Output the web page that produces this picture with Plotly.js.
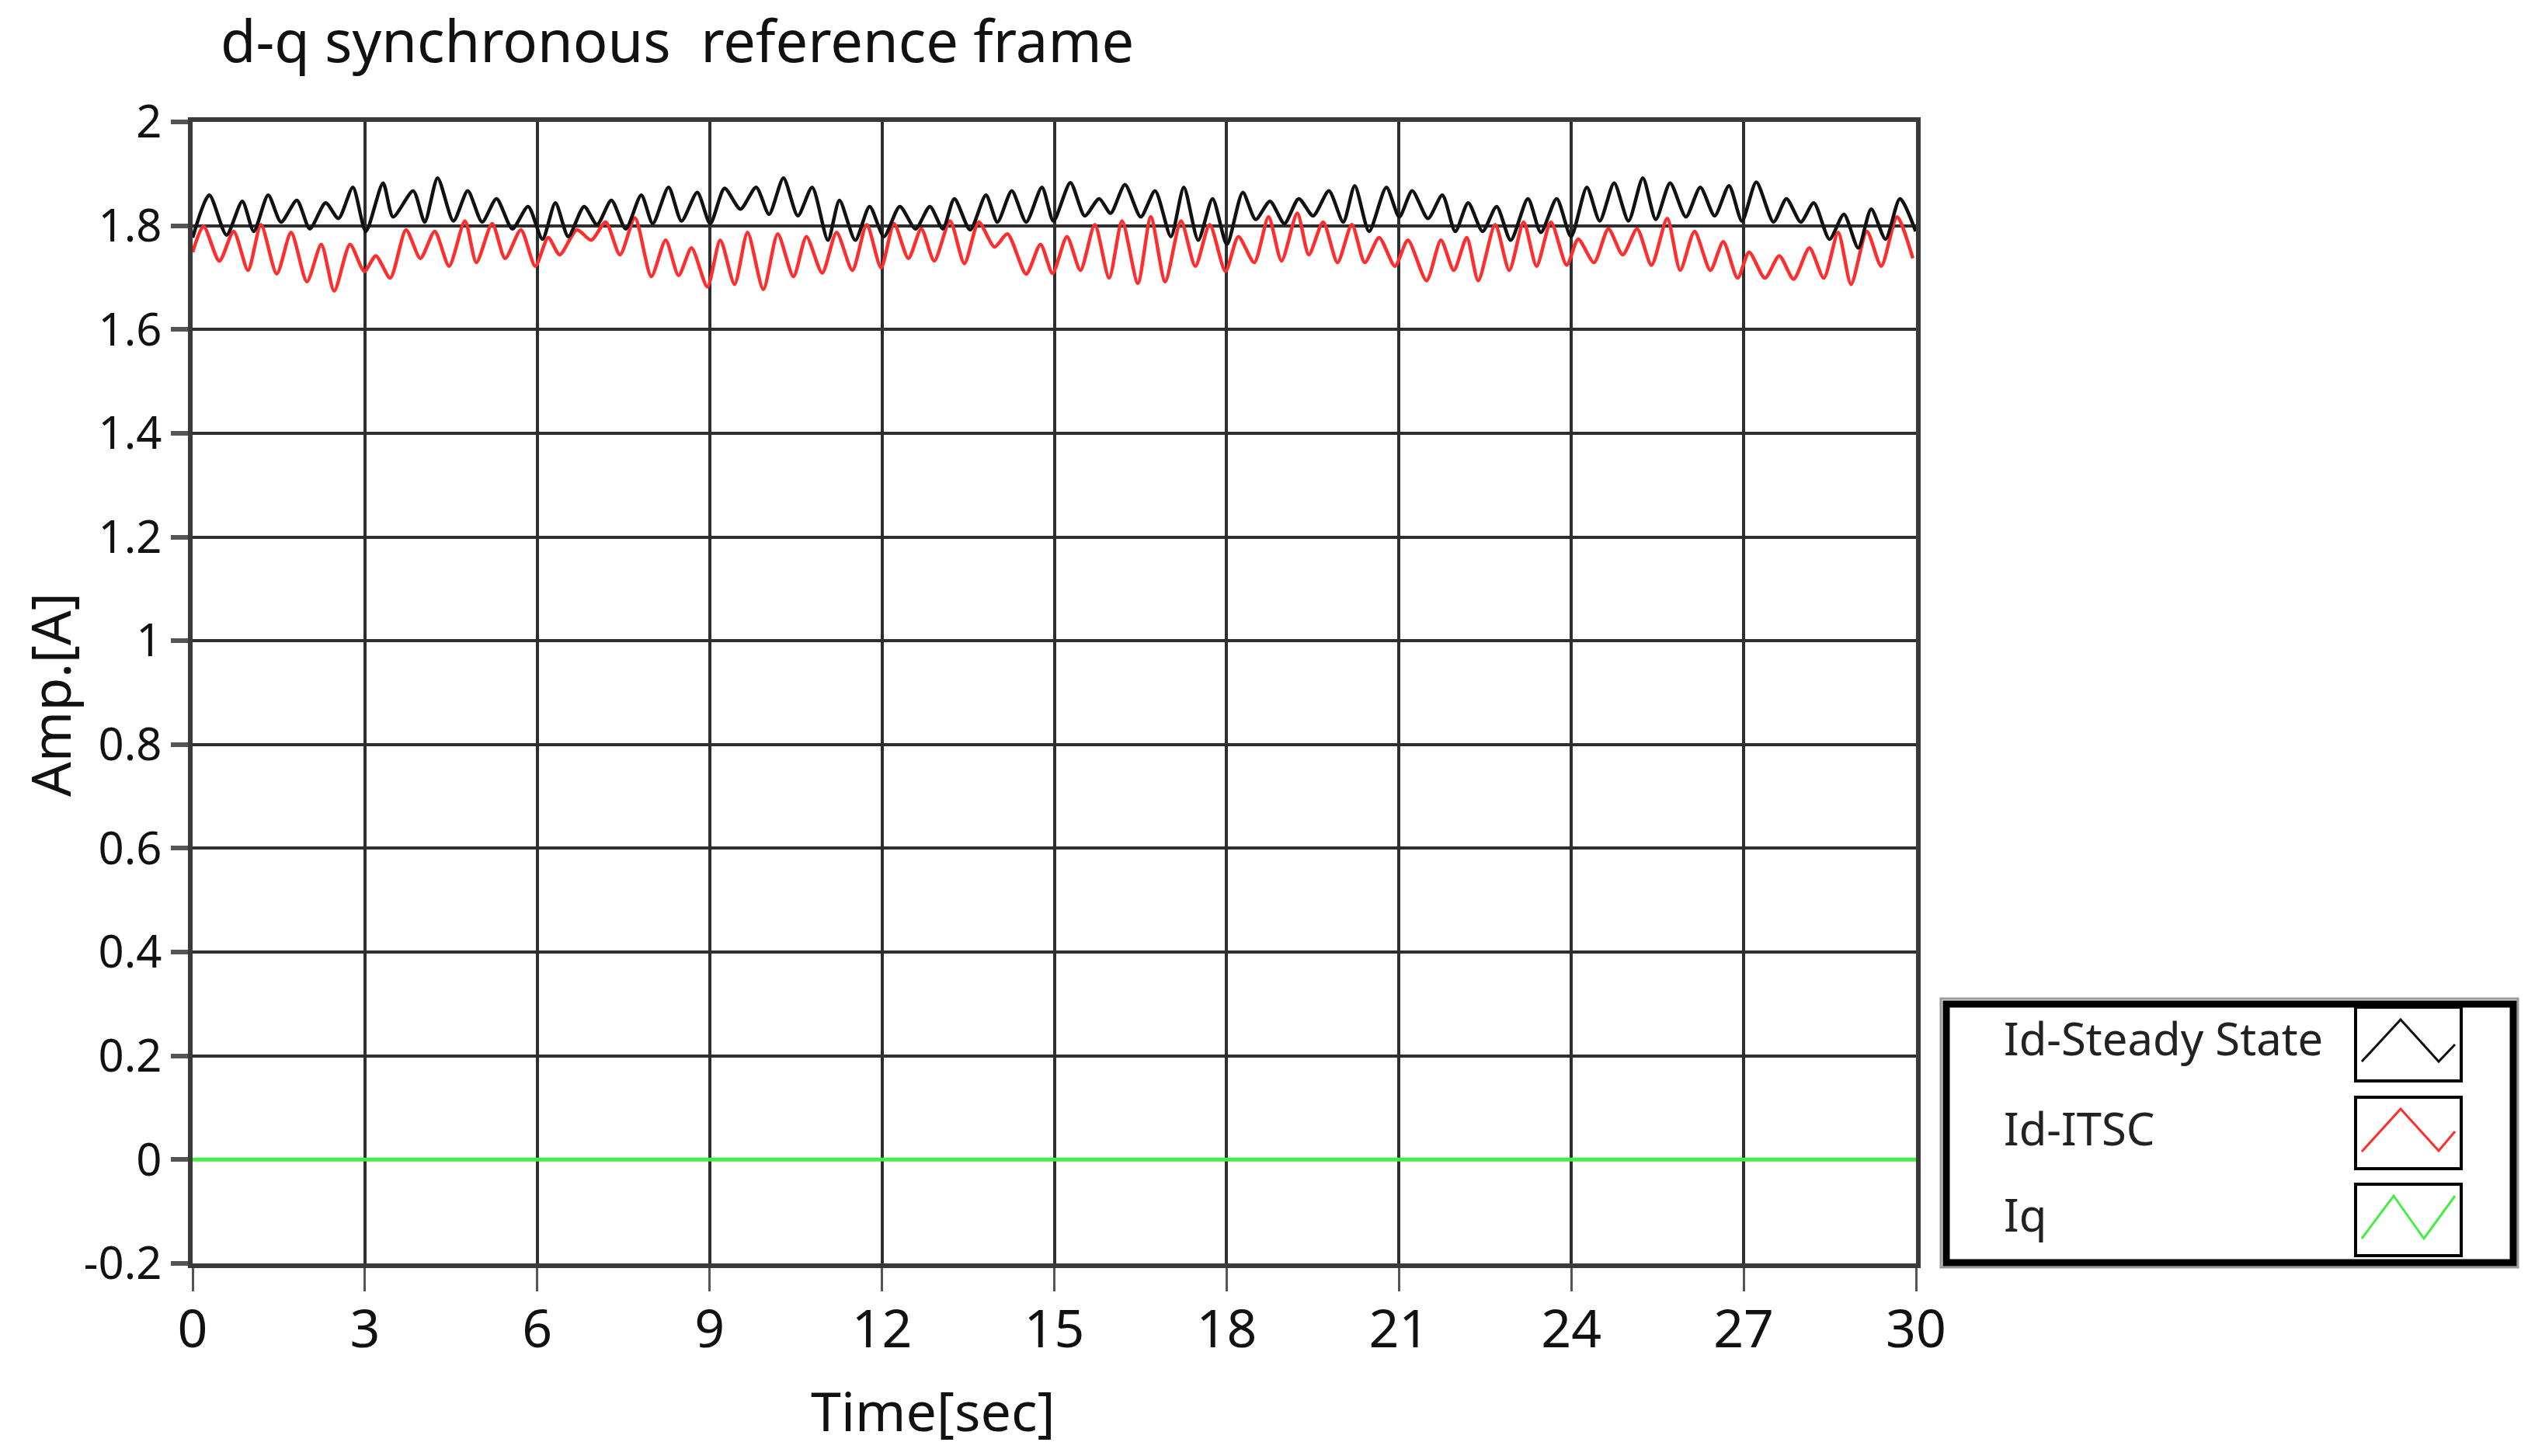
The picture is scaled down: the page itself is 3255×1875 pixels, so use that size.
<!DOCTYPE html>
<html>
<head>
<meta charset="utf-8">
<script src="https://cdn.plot.ly/plotly-3.0.1.min.js"></script>
<style>html,body{margin:0;padding:0;background:#fff;}#chart{width:3255px;height:1875px;}</style>
</head>
<body>
<div id="chart"></div>
<script>
// ---- data ----
const chartTitle = "d-q synchronous  reference frame";
const xTitle = "Time[sec]";
const yTitle = "Amp.[A]";
const seriesNames = ["Id-Steady State", "Id-ITSC", "Iq"];

const xTickVals = [0, 3, 6, 9, 12, 15, 18, 21, 24, 27, 30];
const yTickVals = [-0.2, 0, 0.2, 0.4, 0.6, 0.8, 1, 1.2, 1.4, 1.6, 1.8, 2];
const yTickText = ["-0.2", "0", "0.2", "0.4", "0.6", "0.8", "1", "1.2", "1.4", "1.6", "1.8", "2"];

const steadyT = [0,0.29,0.59,0.865,1.065,1.315,1.54,1.815,2.04,2.315,2.54,2.79,3.015,3.315,3.49,3.84,4.04,4.265,4.54,4.79,5.04,5.29,5.565,5.84,6.09,6.315,6.54,6.815,7.04,7.29,7.54,7.81,8.01,8.285,8.51,8.785,9.01,9.26,9.535,9.81,10.035,10.285,10.535,10.785,11.06,11.26,11.535,11.785,12.035,12.31,12.585,12.835,13.06,13.26,13.535,13.81,14.01,14.26,14.51,14.785,14.985,15.28,15.53,15.78,15.98,16.23,16.505,16.755,17.03,17.255,17.505,17.755,18.005,18.28,18.505,18.755,19.005,19.255,19.505,19.78,20.03,20.23,20.48,20.78,21.005,21.23,21.505,21.755,21.98,22.205,22.455,22.7,22.945,23.245,23.47,23.745,23.995,24.27,24.495,24.745,24.995,25.245,25.47,25.72,25.995,26.245,26.495,26.745,26.97,27.22,27.52,27.745,27.995,28.22,28.495,28.745,28.995,29.22,29.47,29.72,29.995];
const steadyV = [1.777,1.859,1.782,1.847,1.789,1.859,1.807,1.849,1.794,1.844,1.814,1.874,1.789,1.882,1.817,1.867,1.807,1.892,1.809,1.867,1.807,1.852,1.794,1.837,1.774,1.844,1.779,1.837,1.802,1.849,1.794,1.859,1.804,1.874,1.809,1.864,1.804,1.872,1.832,1.874,1.822,1.892,1.819,1.874,1.772,1.849,1.772,1.837,1.779,1.837,1.794,1.837,1.794,1.852,1.792,1.859,1.807,1.867,1.807,1.874,1.809,1.883,1.819,1.852,1.824,1.879,1.817,1.867,1.779,1.874,1.772,1.852,1.764,1.864,1.812,1.847,1.804,1.852,1.819,1.867,1.807,1.877,1.789,1.874,1.817,1.867,1.814,1.859,1.789,1.844,1.789,1.837,1.772,1.852,1.787,1.852,1.779,1.874,1.809,1.882,1.809,1.892,1.812,1.882,1.817,1.874,1.819,1.877,1.809,1.884,1.807,1.852,1.807,1.844,1.774,1.822,1.757,1.832,1.774,1.852,1.789];

const itscT = [0,0.19,0.465,0.715,0.965,1.19,1.465,1.715,1.99,2.24,2.465,2.74,2.99,3.19,3.44,3.715,3.965,4.215,4.465,4.74,4.94,5.215,5.44,5.715,5.965,6.19,6.39,6.69,6.94,7.19,7.44,7.7,7.985,8.235,8.46,8.685,8.96,9.185,9.435,9.66,9.935,10.185,10.46,10.685,10.96,11.21,11.485,11.735,11.985,12.21,12.46,12.685,12.91,13.185,13.435,13.685,13.96,14.185,14.51,14.76,14.97,15.22,15.455,15.705,15.955,16.18,16.455,16.68,16.93,17.205,17.455,17.705,17.98,18.205,18.48,18.73,18.955,19.23,19.43,19.68,19.93,20.18,20.405,20.655,20.93,21.155,21.48,21.73,21.955,22.18,22.38,22.675,22.92,23.17,23.395,23.645,23.92,24.12,24.395,24.645,24.895,25.145,25.395,25.67,25.895,26.145,26.42,26.645,26.895,27.095,27.37,27.62,27.87,28.145,28.395,28.645,28.87,29.145,29.395,29.67,29.945];
const itscV = [1.749,1.799,1.732,1.789,1.714,1.802,1.707,1.787,1.692,1.764,1.674,1.764,1.712,1.742,1.699,1.792,1.737,1.789,1.722,1.809,1.729,1.804,1.737,1.792,1.722,1.777,1.744,1.792,1.772,1.807,1.744,1.815,1.702,1.772,1.704,1.757,1.682,1.772,1.687,1.787,1.677,1.784,1.702,1.779,1.709,1.787,1.714,1.802,1.719,1.804,1.737,1.794,1.732,1.809,1.727,1.807,1.759,1.784,1.707,1.764,1.708,1.779,1.714,1.802,1.699,1.809,1.689,1.817,1.692,1.809,1.722,1.802,1.712,1.779,1.729,1.817,1.732,1.824,1.744,1.807,1.729,1.802,1.729,1.777,1.722,1.772,1.694,1.772,1.714,1.777,1.694,1.802,1.714,1.807,1.722,1.807,1.724,1.774,1.729,1.794,1.744,1.794,1.724,1.814,1.714,1.789,1.714,1.769,1.699,1.749,1.699,1.742,1.697,1.757,1.699,1.787,1.687,1.789,1.722,1.817,1.737];

const iqT = [0, 30];
const iqV = [0, 0];

const seriesColors = ["#111111", "#ff2e2e", "#44ee44"];

// ---- layout geometry (pixels) ----
const W = 3255, H = 1875;
const L = 248, R = 2467, T = 157, B = 1627;
const px = x => (x - L) / (R - L);
const py = y => (B - y) / (B - T);
const FONT = "Noto Sans, Open Sans, sans-serif";

const traces = [
  {x: iqT, y: iqV, name: seriesNames[2], type: "scatter", mode: "lines",
   line: {color: seriesColors[2], width: 5}},
  {x: itscT, y: itscV, name: seriesNames[1], type: "scatter", mode: "lines",
   line: {color: seriesColors[1], width: 4.5, shape: "spline", smoothing: 0.7}},
  {x: steadyT, y: steadyV, name: seriesNames[0], type: "scatter", mode: "lines",
   line: {color: seriesColors[0], width: 4.5, shape: "spline", smoothing: 0.7}}
];

// legend box (drawn manually: text left, swatch right, as in the reference)
const legRows = [
  {name: seriesNames[0], color: seriesColors[0], textY: 1336, box: [1297, 1392],
   zig: [[3041,1367],[3091,1313],[3140,1367],[3161,1345]]},
  {name: seriesNames[1], color: seriesColors[1], textY: 1452, box: [1413, 1505],
   zig: [[3041,1483],[3091,1428],[3140,1482],[3161,1457]]},
  {name: seriesNames[2], color: seriesColors[2], textY: 1563, box: [1525, 1617],
   zig: [[3041,1595],[3082,1540],[3121,1595],[3161,1540]]}
];

const shapes = [
  {type: "rect", xref: "paper", yref: "paper", x0: px(2499), x1: px(3242), y0: py(1286), y1: py(1632),
   line: {color: "#9a9a9a", width: 3}, fillcolor: "rgba(0,0,0,0)", layer: "above"},
  {type: "rect", xref: "paper", yref: "paper", x0: px(2506), x1: px(3236), y0: py(1293), y1: py(1626),
   line: {color: "#000000", width: 9}, fillcolor: "#ffffff", layer: "above"}
];
const annotations = [
  {text: xTitle, xref: "paper", yref: "paper", x: px(1201), y: py(1816), xanchor: "center", yanchor: "middle",
   showarrow: false, font: {family: FONT, size: 70, color: "#111"}},
  {text: yTitle, xref: "paper", yref: "paper", x: px(64), y: py(895), xanchor: "center", yanchor: "middle",
   textangle: -90, showarrow: false, font: {family: FONT, size: 70, color: "#111"}}
];
legRows.forEach(r => {
  shapes.push({type: "rect", xref: "paper", yref: "paper", x0: px(3033), x1: px(3169), y0: py(r.box[0]), y1: py(r.box[1]),
    line: {color: "#000", width: 4}, fillcolor: "#fff", layer: "above"});
  const d = r.zig.map((p, i) => (i ? "L" : "M") + px(p[0]) + "," + py(p[1])).join(" ");
  shapes.push({type: "path", xref: "paper", yref: "paper", path: d, line: {color: r.color, width: 3}, layer: "above"});
  annotations.push({text: r.name, xref: "paper", yref: "paper", x: px(2578), y: py(r.textY), xanchor: "left", yanchor: "middle",
    showarrow: false, font: {family: FONT, size: 58, color: "#222"}});
});

const layout = {
  width: W, height: H,
  paper_bgcolor: "#ffffff", plot_bgcolor: "#ffffff",
  margin: {l: L, r: W - R, t: T, b: H - B, pad: 0},
  showlegend: false,
  title: {text: chartTitle, xref: "container", yref: "container", x: 284 / W, xanchor: "left",
          y: 1 - 54 / H, yanchor: "middle", font: {family: FONT, size: 74, color: "#111"}},
  xaxis: {range: [0, 30], tickvals: xTickVals, ticktext: xTickVals.map(String),
          showgrid: true, gridcolor: "#2e2e2e", gridwidth: 4, zeroline: false,
          showline: true, linecolor: "#3a3a3a", linewidth: 6, mirror: true,
          ticks: "outside", ticklen: 30, tickwidth: 3, tickcolor: "#555", ticklabelstandoff: -10,
          tickfont: {family: FONT, size: 68, color: "#111"}, fixedrange: true},
  yaxis: {range: [-0.2, 2], tickvals: yTickVals, ticktext: yTickText,
          showgrid: true, gridcolor: "#2e2e2e", gridwidth: 4, zeroline: false,
          showline: true, linecolor: "#3a3a3a", linewidth: 6, mirror: true,
          ticks: "outside", ticklen: 22, tickwidth: 6, tickcolor: "#555",
          tickfont: {family: FONT, size: 58, color: "#111"}, fixedrange: true},
  shapes: shapes,
  annotations: annotations
};

Plotly.newPlot("chart", traces, layout, {displayModeBar: false, staticPlot: true});
</script>
</body>
</html>
